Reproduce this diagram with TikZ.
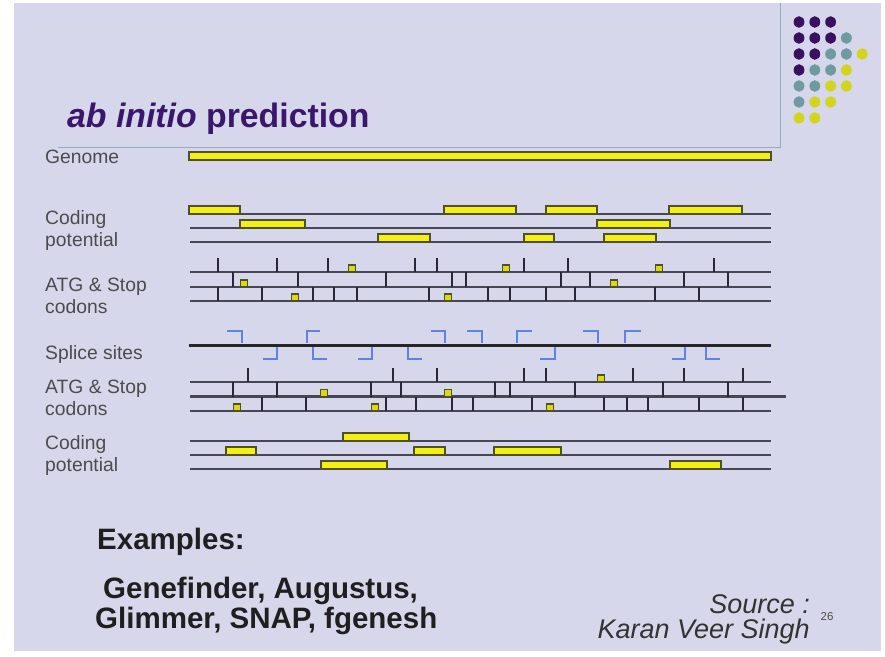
\documentclass[tikz,border=0pt]{standalone}
\usepackage{fontspec}
\setmainfont{Liberation Sans}
\definecolor{bgc}{RGB}{215,215,235}
\definecolor{framec}{RGB}{150,170,190}
\definecolor{titlec}{RGB}{58,22,108}
\definecolor{labc}{RGB}{75,75,80}
\definecolor{trackc}{RGB}{70,70,85}
\definecolor{tickc}{RGB}{40,40,55}
\definecolor{boxfill}{RGB}{245,240,20}
\definecolor{boxdraw}{RGB}{80,80,40}
\definecolor{splc}{RGB}{95,130,230}
\definecolor{dotp}{RGB}{58,15,95}
\definecolor{dott}{RGB}{110,155,160}
\definecolor{doty}{RGB}{212,212,30}
\tikzset{
  track/.style={draw=trackc, line width=2.1pt},
  tickl/.style={draw=tickc, line width=2.5pt},
  codbox/.style={fill=boxfill, draw=boxdraw, line width=1.2pt},
  atg/.style={fill=boxfill!80!olive, draw=boxdraw, line width=1.2pt},
  splice/.style={draw=splc, line width=2.2pt},
  lab/.style={anchor=base west, inner sep=0pt, text=labc, font=\fontsize{19.3}{21}\selectfont},
  bigtxt/.style={anchor=base west, inner sep=0pt, text=black!88, font=\fontsize{29.5}{31}\selectfont\bfseries},
  srctxt/.style={anchor=base east, inner sep=0pt, text=black!80, font=\fontsize{27}{29}\selectfont\itshape}
}
\begin{document}
\begin{tikzpicture}[x=1pt,y=-1pt]
\useasboundingbox (0,0) rectangle (885,656);
\fill[white] (0,0) rectangle (885,656);
\fill[bgc] (14,3) rectangle (881,651);
% frame
\draw[framec, line width=1pt] (58,147.5) -- (780,147.5) -- (780,3);
% dots
\foreach \r/\cols in {0/{p,p,p},1/{p,p,p,t},2/{p,p,t,t,y},3/{p,t,t,y},4/{t,t,y,y},5/{t,y,y},6/{y,y}}{
  \foreach \c [count=\i from 0] in \cols {
    \fill[dot\c] (799+15.8*\i, 22+16*\r) ellipse (5.4 and 5.8);
  }
}
% title
\node[anchor=base west, inner sep=0pt, text=titlec, font=\fontsize{33.8}{36}\selectfont\bfseries] (title) at (67,127) {\textit{ab initio} prediction};
% labels
\node[lab] (lgen) at (45,163) {Genome};
\node[lab] (lcp1) at (45,224) {Coding};
\node[lab] (lcp1b) at (45,246) {potential};
\node[lab] (latg1) at (45,291) {ATG \& Stop};
\node[lab] (latg1b) at (45,313) {codons};
\node[lab] (lspl) at (45,359) {Splice sites};
\node[lab] (latg2) at (45,393) {ATG \& Stop};
\node[lab] (latg2b) at (45,415) {codons};
\node[lab] (lcp2) at (45,449) {Coding};
\node[lab] (lcp2b) at (45,471) {potential};
% genome
\draw[codbox] (189,152) rectangle (771,160);
% coding potential top
\foreach \y in {214,228,242} \draw[track] (190,\y) -- (771,\y);
\foreach \a/\b in {189/240,444/516,546/597,669/742} \draw[codbox] (\a,206) rectangle (\b,214);
\foreach \a/\b in {240/305,597/670} \draw[codbox] (\a,220) rectangle (\b,228);
\foreach \a/\b in {378/430,524/554,604/656} \draw[codbox] (\a,234) rectangle (\b,242);
% ATG & stop top
\foreach \y in {272,287,301} \draw[track] (190,\y) -- (771,\y);
\foreach \x in {218,277,328,415,437,524,568,714} \draw[tickl] (\x,258) -- (\x,272);
\foreach \x in {233,298,386,452,466,561,590,684,728} \draw[tickl] (\x,272) -- (\x,287);
\foreach \x in {218,262,313,334,357,429,488,510,546,575,655,699} \draw[tickl] (\x,287) -- (\x,301);
\foreach \x in {352,506,659} \draw[atg] (\x-3.5,265) rectangle (\x+3.5,272);
\foreach \x in {244,614} \draw[atg] (\x-3.5,280) rectangle (\x+3.5,287);
\foreach \x in {295,448} \draw[atg] (\x-3.5,294) rectangle (\x+3.5,301);
% splice sites
\draw[draw=black!85, line width=3pt] (189,345) -- (771,345);
\foreach \a/\b in {227/242,431/445,467/482,583/598} \draw[splice] (\a,331) -- (\b,331) -- (\b,343);
\foreach \a/\b in {307/320,517/532,625/641} \draw[splice] (\b,331) -- (\a,331) -- (\a,343);
\foreach \a/\b in {263/277,358/372,540/555,672/685} \draw[splice] (\a,359) -- (\b,359) -- (\b,347);
\foreach \a/\b in {313/327,408/422,706/720} \draw[splice] (\b,359) -- (\a,359) -- (\a,347);
% ATG & stop bottom
\draw[track] (190,382) -- (771,382);
\draw[track] (190,396.5) -- (786,396.5);
\draw[track] (190,411) -- (771,411);
\foreach \x in {248,393,437,524,546,633,684,743} \draw[tickl] (\x,368) -- (\x,382);
\foreach \x in {233,277,371,401,495,510,575,663,728} \draw[tickl] (\x,382) -- (\x,396.5);
\foreach \x in {262,306,386,416,452,473,532,604,627,648,699,743} \draw[tickl] (\x,396.5) -- (\x,411);
\foreach \x in {601} \draw[atg] (\x-3.5,375) rectangle (\x+3.5,382);
\foreach \x in {324,448} \draw[atg] (\x-3.5,389.5) rectangle (\x+3.5,396.5);
\foreach \x in {237,375,550} \draw[atg] (\x-3.5,404) rectangle (\x+3.5,411);
% coding potential bottom
\foreach \y in {441,455,469} \draw[track] (190,\y) -- (771,\y);
\draw[codbox] (343,433) rectangle (409,441);
\foreach \a/\b in {226/256,414/445,494/561} \draw[codbox] (\a,447) rectangle (\b,455);
\foreach \a/\b in {321/387,670/721} \draw[codbox] (\a,461) rectangle (\b,469);
% bottom texts
\node[bigtxt] (ex) at (97,549) {Examples:};
\node[bigtxt] (ex1) at (103,598) {Genefinder, Augustus,};
\node[bigtxt] (ex2) at (95,628) {Glimmer, SNAP, fgenesh};
\node[srctxt] (src1) at (810,613) {Source :};
\node[srctxt] (src2) at (810,638) {Karan Veer Singh};
\node[inner sep=0pt, text=black!70, font=\fontsize{11.5}{12}\selectfont] (pg) at (827,617) {26};
\end{tikzpicture}
\end{document}
